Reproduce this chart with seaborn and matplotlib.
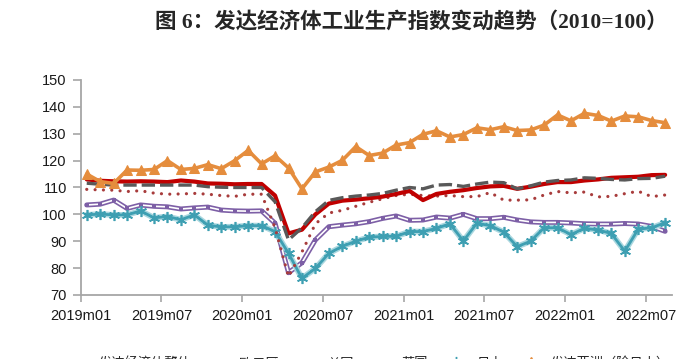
import numpy as np
import pandas as pd
import matplotlib.pyplot as plt
import seaborn as sns
from matplotlib.lines import Line2D

# monthly index, 2019m01 .. 2022m08 (2010=100)
months = pd.period_range("2019-01", "2022-08", freq="M").strftime("%Ym%m").tolist()

dev_total = [113, 112.5, 112.3, 112.2, 112.3, 112.2, 112, 112.6, 112.2, 111.5, 111.4, 111.2,
             111.3, 111.3, 107, 92.9, 94.3, 100, 104, 105.1, 105.5, 106, 106.6, 107.6,
             108.7, 105.3, 107.6, 108.4, 109, 109.8, 110.4, 110.6, 109.5, 110.3, 111.3, 112,
             112, 112.6, 113, 113.6, 113.8, 114, 114.6, 114.7]
euro = [103.5, 103.8, 105.3, 102.2, 103.5, 103, 102.8, 102, 102.4, 102.7, 101.6, 101.3,
        101.2, 101.3, 96.7, 78.3, 82, 90.5, 95.4, 96, 96.5, 97.3, 98.5, 99.4,
        97.8, 97.9, 99, 98.6, 100, 98.4, 98.4, 98.9, 97.9, 97.2, 97, 97,
        96.8, 96.5, 96.4, 96.4, 96.6, 96.4, 95.5, 93.7]
us = [111.6, 111.2, 110.9, 110.9, 110.9, 110.9, 110.9, 110.9, 110.9, 110.3, 110.1, 110,
      110, 110, 104.7, 90.5, 95, 101, 105.2, 106.2, 106.8, 107.2, 107.8, 109,
      110, 109.5, 110.9, 111.1, 110.4, 111.3, 112, 111.8, 109.5, 110.6, 112, 112.6,
      112.8, 113.6, 113.4, 113, 112.8, 113.3, 113.4, 114.2]
uk = [109.3, 109.1, 109, 108.5, 108.8, 107.9, 107.5, 107.6, 107.8, 107.5, 107, 106.7,
      107.5, 107.5, 95, 76.8, 86, 96.5, 100.5, 101.5, 103, 104.5, 105.8, 107,
      107.5, 107, 106.8, 107, 106.6, 106.6, 108.1, 105.3, 105.3, 105.4, 107.2, 108.5,
      108, 108.3, 106.5, 106.7, 107.7, 108.6, 106.6, 107.2]
japan = [99.8, 100.1, 99.8, 99.8, 101.3, 98.7, 99.2, 98, 99.8, 96, 95.3, 95.4,
         95.8, 95.8, 93.6, 85.5, 76.2, 79.9, 85.5, 88.1, 90, 91.5, 91.8, 91.8,
         93.6, 93.6, 94.8, 96.5, 90.1, 96.7, 95.8, 93.4, 88, 90, 95, 95,
         92.5, 94.8, 94.2, 92.9, 86.3, 94.5, 95, 96.9]
asia = [115, 112.2, 111.5, 116.5, 116.4, 116.7, 120, 116.7, 117.1, 118.5, 117, 120,
        123.8, 118.8, 121.8, 117.3, 109.5, 115.8, 117.6, 120.1, 125.2, 121.9, 122.8, 125.8,
        126.7, 129.8, 131.1, 128.8, 129.7, 132.2, 131.5, 132.6, 131.2, 131.4, 133.2, 137,
        134.8, 137.6, 136.8, 134.7, 136.6, 136.3, 134.9, 134.1]

names = ["发达经济体整体", "欧元区", "美国", "英国", "日本", "发达亚洲（除日本）"]
tick_labels = ["2019m01", "2019m07", "2020m01", "2020m07", "2021m01", "2021m07", "2022m01", "2022m07"]

df = pd.DataFrame({"month": months, "total": dev_total, "euro": euro, "us": us,
                   "uk": uk, "japan": japan, "asia": asia})
df["x"] = np.arange(len(df)) + 0.45

sns.set_theme(style="ticks")
plt.rcParams['font.family'] = ['Liberation Sans', 'Noto Sans CJK SC']

fig = plt.figure(figsize=(6.85, 3.59), dpi=100)
ax = fig.add_axes([0.1178, 0.1783, 0.8628, 0.5989])

c_red, c_purple, c_gray = "#C00000", "#7D5FA6", "#595959"
c_dot, c_teal, c_orange = "#A83C3C", "#3E9FB2", "#E58D3D"
dotted = (0, (0.01, 2.6))
dashed = (0, (4, 1.5))

# euro area: double line
sns.lineplot(data=df, x="x", y="euro", color=c_purple, lw=3.6, ax=ax)
sns.lineplot(data=df, x="x", y="euro", color="white", lw=1.2, marker="s", ms=2.2,
             mfc=c_purple, mec=c_purple, mew=0, ax=ax)
# japan
sns.lineplot(data=df, x="x", y="japan", color="#A9D7DF", lw=4.2, ax=ax)
sns.lineplot(data=df, x="x", y="japan", color=c_teal, lw=2, marker=(6, 2, 0), ms=8,
             mec=c_teal, mew=1.2, ax=ax)
# uk dotted
sns.lineplot(data=df, x="x", y="uk", color=c_dot, lw=2.3, linestyle=dotted,
             dash_capstyle="round", ax=ax)
# developed total
sns.lineplot(data=df, x="x", y="total", color=c_red, lw=3.0, ax=ax)
# us dashed
sns.lineplot(data=df, x="x", y="us", color=c_gray, lw=2.4, linestyle=dashed, ax=ax)
# developed asia
sns.lineplot(data=df, x="x", y="asia", color=c_orange, lw=2.6, marker="^", ms=7.5,
             mec=c_orange, ax=ax)

ax.set_xlim(0, 43.94)
ax.set_ylim(70, 150)
ax.set_yticks(range(70, 151, 10))
ax.set_xticks(range(0, 43, 6))
ax.set_xticklabels(tick_labels)
ax.set_xlabel("")
ax.set_ylabel("")
sns.despine(ax=ax)
for s in ["left", "bottom"]:
    ax.spines[s].set_color("#A6A6A6")
    ax.spines[s].set_linewidth(1.3)
ax.tick_params(axis="y", length=6, width=1.2, color="#A6A6A6", labelsize=10.5, pad=4, labelcolor="#1A1A1A")
ax.tick_params(axis="x", length=5, width=1.2, color="#A6A6A6", labelsize=10.5, pad=5, labelcolor="#1A1A1A")

fig.text(0.601, 1 - 22 / 359, "图 6：发达经济体工业生产指数变动趋势（2010=100）",
         ha="center", va="center", fontsize=15.5, fontweight="bold",
         family=["Liberation Serif", "Noto Sans CJK SC"])

handles = [
    Line2D([], [], color=c_red, lw=3.0),
    (Line2D([], [], color=c_purple, lw=3.6), Line2D([], [], color="white", lw=1.2)),
    Line2D([], [], color=c_gray, lw=2.4, linestyle=dashed),
    Line2D([], [], color=c_dot, lw=2.3, linestyle=dotted, dash_capstyle="round"),
    Line2D([], [], color=c_teal, lw=2, marker=(6, 2, 0), ms=8, mec=c_teal),
    Line2D([], [], color=c_orange, lw=2.6, marker="^", ms=7.5),
]
fig.legend(handles, names, loc="center", bbox_to_anchor=(0.537, -0.013), ncol=6,
           frameon=False, fontsize=9.5, handlelength=2.0, columnspacing=1.14, handletextpad=0.5)

fig.savefig("out.png", dpi=100)
